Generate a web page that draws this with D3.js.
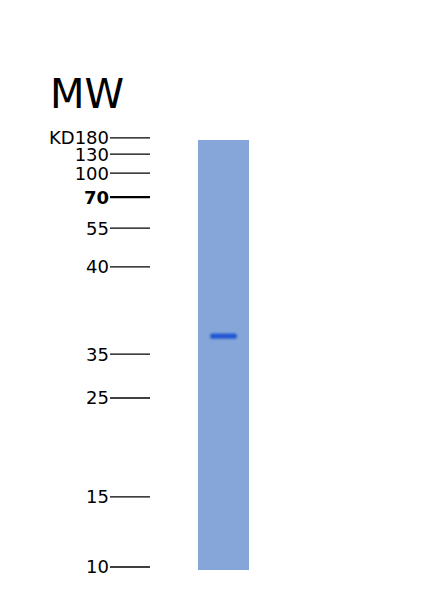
<!DOCTYPE html>
<html>
<head>
<meta charset="utf-8">
<script src="https://cdn.jsdelivr.net/npm/d3@7"></script>
<style>
  body { margin: 0; background: #fff; }
  text { font-family: "DejaVu Sans", sans-serif; }
</style>
</head>
<body>
<div id="chart"></div>
<script>
// marker ladder (kDa) and their relative migration down the lane (0 = top, 1 = bottom)
const markerLabels = ["KD180", "130", "100", "70", "55", "40", "35", "25", "15", "10"];
const markerMigration = [-0.005, 0.033, 0.077, 0.133, 0.205, 0.295, 0.498, 0.600, 0.830, 0.993];
const boldMarker = ["70"];

// sample lane bands: relative migration and intensity
const bandMigration = [0.456];
const bandIntensity = [1];

const width = 439, height = 600;

const svg = d3.select("#chart")
  .append("svg")
  .attr("width", width)
  .attr("height", height);

const y = d3.scaleLinear().domain([0, 1]).range([140, 570]);
const laneX = d3.scaleBand().domain(["sample"]).range([198, 249]).padding(0);

const defs = svg.append("defs");
const blur = defs.append("filter").attr("id", "blur")
  .attr("x", "-50%").attr("y", "-200%").attr("width", "200%").attr("height", "500%");
blur.append("feGaussianBlur").attr("stdDeviation", "1.2 0.9");

const soft = defs.append("filter").attr("id", "soft");
soft.append("feGaussianBlur").attr("stdDeviation", 0.6);

// title
svg.append("text")
  .attr("x", 50)
  .attr("y", 108)
  .style("font-size", "40px")
  .style("fill", "#000")
  .text("MW");

// marker ticks and labels
const markers = markerLabels.map((d, i) => ({ label: d, m: markerMigration[i] }));

const mk = svg.append("g").selectAll("g")
  .data(markers)
  .join("g")
  .attr("transform", d => `translate(0,${y(d.m)})`);

mk.append("line")
  .attr("x1", 110)
  .attr("x2", 150)
  .attr("stroke", "#000")
  .attr("stroke-width", d => boldMarker.includes(d.label) ? 2.2 : 1.3);

mk.append("text")
  .attr("x", 109)
  .attr("dy", "0.36em")
  .attr("text-anchor", "end")
  .style("font-size", "18px")
  .style("font-weight", d => boldMarker.includes(d.label) ? "bold" : "normal")
  .style("fill", "#000")
  .text(d => d.label);

// lane
svg.append("rect")
  .attr("x", laneX("sample"))
  .attr("y", y(0))
  .attr("width", laneX.bandwidth())
  .attr("height", y(1) - y(0))
  .attr("fill", "#86a6d9")
  .attr("filter", "url(#soft)");

// bands
const bands = bandMigration.map((d, i) => ({ m: d, v: bandIntensity[i] }));
svg.append("g").selectAll("rect")
  .data(bands)
  .join("rect")
  .attr("x", laneX("sample") + 12)
  .attr("y", d => y(d.m) - 2.6)
  .attr("width", 27)
  .attr("height", 5.2)
  .attr("rx", 2.5)
  .attr("fill", "#1a52d0")
  .attr("opacity", d => 0.95 * d.v)
  .attr("filter", "url(#blur)");
</script>
</body>
</html>
